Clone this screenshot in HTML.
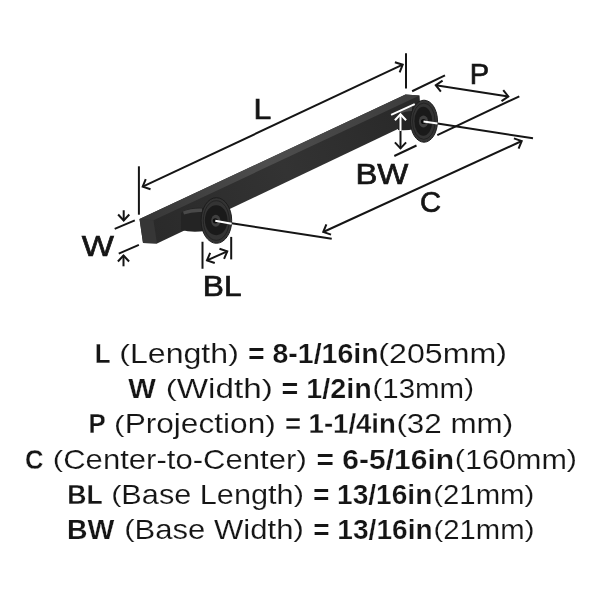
<!DOCTYPE html>
<html><head><meta charset="utf-8">
<style>
html,body{margin:0;padding:0;background:#fff;width:600px;height:600px;overflow:hidden}
svg{display:block;position:absolute;left:0;top:0;will-change:transform}
text{font-family:"Liberation Sans",sans-serif;fill:#151515}
</style></head><body>
<svg width="600" height="600" viewBox="0 0 600 600">
<defs>
<linearGradient id="topg" gradientUnits="userSpaceOnUse" x1="140" y1="219" x2="420" y2="95">
<stop offset="0" stop-color="#363636"/><stop offset="0.45" stop-color="#4e4e4e"/><stop offset="1" stop-color="#3c3c3c"/>
</linearGradient>
<linearGradient id="frontg" gradientUnits="userSpaceOnUse" x1="150" y1="230" x2="420" y2="108">
<stop offset="0" stop-color="#2a2a2a"/><stop offset="0.5" stop-color="#333"/><stop offset="1" stop-color="#282828"/>
</linearGradient>
</defs>
<polygon points="139.5,219 405.5,94.5 419.5,95.5 421,118 157,243.5 143,243" fill="url(#frontg)"/>
<polygon points="139.5,219 405.5,94.5 419.5,95.5 153.5,220.2" fill="url(#topg)"/>
<polygon points="139.5,219 153.5,220.2 157,243.5 143,243" fill="#363636"/>
<path d="M181,213 Q190,207 203,208 L205,231 Q192,233 181,230 Z" fill="#242424"/>
<path d="M183,211.5 Q191,208 202,208.5 L202,212 Q192,211.5 184,214.5 Z" fill="#555" opacity="0.75"/>
<ellipse cx="216.4" cy="220.5" rx="15.3" ry="22.8" fill="#343434" stroke="#1c1c1c" stroke-width="1"/>
<ellipse cx="216.3" cy="220.5" rx="13" ry="19.8" fill="none" stroke="#1e1e1e" stroke-width="0.8"/>
<ellipse cx="216.2" cy="220.2" rx="11.3" ry="15" fill="#1a1a1a"/>
<ellipse cx="215.8" cy="220.8" rx="4.6" ry="6" fill="#404040"/>
<circle cx="215.3" cy="220.8" r="2.6" fill="#0e0e0e"/>
<path d="M398,111 Q405,106 413,106 L415,129 Q406,131 398,130 Z" fill="#242424"/>
<path d="M399,110.5 Q405,107 412,107 L412,111 Q405,111 400,114 Z" fill="#555" opacity="0.7"/>
<ellipse cx="424" cy="121.2" rx="13.5" ry="21" fill="#343434" stroke="#1c1c1c" stroke-width="1"/>
<ellipse cx="423.8" cy="121.2" rx="11.3" ry="18.2" fill="none" stroke="#1e1e1e" stroke-width="0.8"/>
<ellipse cx="423.3" cy="121.2" rx="8.9" ry="14.5" fill="#1a1a1a"/>
<ellipse cx="423.5" cy="121.5" rx="4.6" ry="6" fill="#404040"/>
<circle cx="423.5" cy="121.5" r="2.6" fill="#0e0e0e"/>
<line x1="138.90" y1="166.30" x2="138.90" y2="214.70" stroke="#151515" stroke-width="2.0"/>
<line x1="406.00" y1="53.30" x2="406.00" y2="88.50" stroke="#151515" stroke-width="2.0"/>
<line x1="142.70" y1="186.70" x2="402.70" y2="64.70" stroke="#151515" stroke-width="2.0"/><polyline points="150.50,189.22 142.70,186.70 145.75,179.09" stroke="#151515" stroke-width="2.0" fill="none" stroke-linejoin="miter"/><polyline points="394.90,62.18 402.70,64.70 399.65,72.31" stroke="#151515" stroke-width="2.0" fill="none" stroke-linejoin="miter"/>
<line x1="114.70" y1="228.90" x2="134.80" y2="220.30" stroke="#151515" stroke-width="2.0"/>
<line x1="118.75" y1="253.60" x2="138.90" y2="244.90" stroke="#151515" stroke-width="2.0"/>
<line x1="123.70" y1="210.25" x2="123.70" y2="220.50" stroke="#151515" stroke-width="2.0"/>
<polyline points="129.29,214.50 123.70,220.50 118.11,214.50" stroke="#151515" stroke-width="2.0" fill="none" stroke-linejoin="miter"/>
<line x1="123.50" y1="266.30" x2="123.50" y2="255.50" stroke="#151515" stroke-width="2.0"/>
<polyline points="117.91,261.50 123.50,255.50 129.09,261.50" stroke="#151515" stroke-width="2.0" fill="none" stroke-linejoin="miter"/>
<line x1="202.50" y1="241.75" x2="202.50" y2="268.75" stroke="#151515" stroke-width="2.0"/>
<line x1="231.20" y1="236.90" x2="231.20" y2="259.40" stroke="#151515" stroke-width="2.0"/>
<line x1="207.00" y1="260.40" x2="227.25" y2="251.35" stroke="#151515" stroke-width="2.0"/><polyline points="214.76,263.06 207.00,260.40 210.19,252.85" stroke="#151515" stroke-width="2.0" fill="none" stroke-linejoin="miter"/><polyline points="219.49,248.69 227.25,251.35 224.06,258.90" stroke="#151515" stroke-width="2.0" fill="none" stroke-linejoin="miter"/>
<line x1="231.60" y1="223.30" x2="331.75" y2="238.75" stroke="#151515" stroke-width="2.0"/>
<line x1="437.50" y1="123.50" x2="533.00" y2="138.30" stroke="#151515" stroke-width="2.0"/>
<line x1="323.25" y1="232.00" x2="521.70" y2="141.00" stroke="#151515" stroke-width="2.0"/><polyline points="331.03,234.58 323.25,232.00 326.37,224.42" stroke="#151515" stroke-width="2.0" fill="none" stroke-linejoin="miter"/><polyline points="513.92,138.42 521.70,141.00 518.58,148.58" stroke="#151515" stroke-width="2.0" fill="none" stroke-linejoin="miter"/>
<line x1="412.10" y1="91.25" x2="445.00" y2="75.40" stroke="#151515" stroke-width="2.0"/>
<line x1="437.30" y1="135.20" x2="519.30" y2="96.30" stroke="#151515" stroke-width="2.0"/>
<line x1="435.80" y1="85.20" x2="508.30" y2="96.50" stroke="#151515" stroke-width="2.0"/><polyline points="440.86,91.65 435.80,85.20 442.59,80.60" stroke="#151515" stroke-width="2.0" fill="none" stroke-linejoin="miter"/><polyline points="503.24,90.05 508.30,96.50 501.51,101.10" stroke="#151515" stroke-width="2.0" fill="none" stroke-linejoin="miter"/>
<line x1="400.50" y1="130.00" x2="400.50" y2="148.40" stroke="#151515" stroke-width="2.0"/>
<polyline points="406.09,142.40 400.50,148.40 394.91,142.40" stroke="#151515" stroke-width="2.0" fill="none" stroke-linejoin="miter"/>
<line x1="394.30" y1="156.00" x2="416.50" y2="145.50" stroke="#151515" stroke-width="2.0"/>
<line x1="215.30" y1="220.80" x2="231.70" y2="223.75" stroke="#fff" stroke-width="2.0"/>
<line x1="423.50" y1="121.50" x2="437.50" y2="123.50" stroke="#fff" stroke-width="2.0"/>
<line x1="391.10" y1="114.90" x2="414.75" y2="104.10" stroke="#fff" stroke-width="2.0"/>
<line x1="400.50" y1="114.30" x2="400.50" y2="131.00" stroke="#fff" stroke-width="2.0"/>
<polyline points="394.91,120.30 400.50,114.30 406.09,120.30" stroke="#fff" stroke-width="2.0" fill="none" stroke-linejoin="miter"/>
<text transform="translate(253.489,118.950) scale(0.21343,0.19808)" font-size="150" font-weight="normal" stroke="#151515" stroke-width="3.534">L</text>
<text transform="translate(469.824,83.854) scale(0.19383,0.19619)" font-size="150" font-weight="normal" stroke="#151515" stroke-width="3.568">P</text>
<text transform="translate(355.419,183.550) scale(0.21921,0.19712)" font-size="150" font-weight="normal" stroke="#151515" stroke-width="3.551">BW</text>
<text transform="translate(419.986,211.951) scale(0.19479,0.19907)" font-size="150" font-weight="normal" stroke="#151515" stroke-width="3.516">C</text>
<text transform="translate(81.650,256.250) scale(0.22695,0.20096)" font-size="150" font-weight="normal" stroke="#151515" stroke-width="3.483">W</text>
<text transform="translate(202.813,295.650) scale(0.21138,0.19712)" font-size="150" font-weight="normal" stroke="#151515" stroke-width="3.551">BL</text>
<text transform="translate(94.769,362.900) scale(0.17308,0.18462)" font-size="150" font-weight="bold" stroke="#fff" stroke-width="0.25" vector-effect="non-scaling-stroke">L</text>
<text transform="translate(119.274,362.900) scale(0.21405,0.18462)" x="49.94" font-size="150" font-weight="normal" stroke="#fff" stroke-width="0.15" vector-effect="non-scaling-stroke">Length</text>
<text transform="translate(119.274,361.262) scale(0.21405,0.15929)" font-size="150" font-weight="normal" stroke="#fff" stroke-width="0.15" vector-effect="non-scaling-stroke">(</text>
<text transform="translate(228.167,361.262) scale(0.21405,0.15929)" font-size="150" font-weight="normal" stroke="#fff" stroke-width="0.15" vector-effect="non-scaling-stroke">)</text>
<text transform="translate(247.960,362.900) scale(0.19004,0.18462)" font-size="150" font-weight="bold" stroke="#fff" stroke-width="0.25" vector-effect="non-scaling-stroke">= 8-1/16in</text>
<text transform="translate(378.372,362.900) scale(0.21426,0.18462)" x="49.94" font-size="150" font-weight="normal" stroke="#fff" stroke-width="0.15" vector-effect="non-scaling-stroke">205mm</text>
<text transform="translate(378.372,361.262) scale(0.21426,0.15929)" font-size="150" font-weight="normal" stroke="#fff" stroke-width="0.15" vector-effect="non-scaling-stroke">(</text>
<text transform="translate(496.239,361.262) scale(0.21426,0.15929)" font-size="150" font-weight="normal" stroke="#fff" stroke-width="0.15" vector-effect="non-scaling-stroke">)</text>
<text transform="translate(128.300,398.100) scale(0.19507,0.18462)" font-size="150" font-weight="bold" stroke="#fff" stroke-width="0.25" vector-effect="non-scaling-stroke">W</text>
<text transform="translate(165.706,398.100) scale(0.22151,0.18462)" x="49.94" font-size="150" font-weight="normal" stroke="#fff" stroke-width="0.15" vector-effect="non-scaling-stroke">Width</text>
<text transform="translate(165.706,396.462) scale(0.22151,0.15929)" font-size="150" font-weight="normal" stroke="#fff" stroke-width="0.15" vector-effect="non-scaling-stroke">(</text>
<text transform="translate(261.698,396.462) scale(0.22151,0.15929)" font-size="150" font-weight="normal" stroke="#fff" stroke-width="0.15" vector-effect="non-scaling-stroke">)</text>
<text transform="translate(281.551,398.100) scale(0.19145,0.18462)" font-size="150" font-weight="bold" stroke="#fff" stroke-width="0.25" vector-effect="non-scaling-stroke">= 1/2in</text>
<text transform="translate(372.532,398.100) scale(0.19639,0.18462)" x="49.94" font-size="150" font-weight="normal" stroke="#fff" stroke-width="0.15" vector-effect="non-scaling-stroke">13mm</text>
<text transform="translate(372.532,396.462) scale(0.19639,0.15929)" font-size="150" font-weight="normal" stroke="#fff" stroke-width="0.15" vector-effect="non-scaling-stroke">(</text>
<text transform="translate(464.187,396.462) scale(0.19639,0.15929)" font-size="150" font-weight="normal" stroke="#fff" stroke-width="0.15" vector-effect="non-scaling-stroke">)</text>
<text transform="translate(88.382,433.300) scale(0.17176,0.18462)" font-size="150" font-weight="bold" stroke="#fff" stroke-width="0.25" vector-effect="non-scaling-stroke">P</text>
<text transform="translate(114.101,433.300) scale(0.21095,0.18462)" x="49.94" font-size="150" font-weight="normal" stroke="#fff" stroke-width="0.15" vector-effect="non-scaling-stroke">Projection</text>
<text transform="translate(114.101,431.662) scale(0.21095,0.15929)" font-size="150" font-weight="normal" stroke="#fff" stroke-width="0.15" vector-effect="non-scaling-stroke">(</text>
<text transform="translate(265.341,431.662) scale(0.21095,0.15929)" font-size="150" font-weight="normal" stroke="#fff" stroke-width="0.15" vector-effect="non-scaling-stroke">)</text>
<text transform="translate(284.899,433.300) scale(0.18356,0.18462)" font-size="150" font-weight="bold" stroke="#fff" stroke-width="0.25" vector-effect="non-scaling-stroke">= 1-1/4in</text>
<text transform="translate(396.417,433.300) scale(0.20926,0.18462)" x="49.94" font-size="150" font-weight="normal" stroke="#fff" stroke-width="0.15" vector-effect="non-scaling-stroke">32 mm</text>
<text transform="translate(396.417,431.662) scale(0.20926,0.15929)" font-size="150" font-weight="normal" stroke="#fff" stroke-width="0.15" vector-effect="non-scaling-stroke">(</text>
<text transform="translate(502.796,431.662) scale(0.20926,0.15929)" font-size="150" font-weight="normal" stroke="#fff" stroke-width="0.15" vector-effect="non-scaling-stroke">)</text>
<text transform="translate(24.978,468.500) scale(0.17041,0.18462)" font-size="150" font-weight="bold" stroke="#fff" stroke-width="0.25" vector-effect="non-scaling-stroke">C</text>
<text transform="translate(52.835,468.500) scale(0.20720,0.18462)" x="49.94" font-size="150" font-weight="normal" stroke="#fff" stroke-width="0.15" vector-effect="non-scaling-stroke">Center-to-Center</text>
<text transform="translate(52.835,466.862) scale(0.20720,0.15929)" font-size="150" font-weight="normal" stroke="#fff" stroke-width="0.15" vector-effect="non-scaling-stroke">(</text>
<text transform="translate(296.378,466.862) scale(0.20720,0.15929)" font-size="150" font-weight="normal" stroke="#fff" stroke-width="0.15" vector-effect="non-scaling-stroke">)</text>
<text transform="translate(316.500,468.500) scale(0.20000,0.18462)" font-size="150" font-weight="bold" stroke="#fff" stroke-width="0.25" vector-effect="non-scaling-stroke">= 6-5/16in</text>
<text transform="translate(454.868,468.500) scale(0.20361,0.18462)" x="49.94" font-size="150" font-weight="normal" stroke="#fff" stroke-width="0.15" vector-effect="non-scaling-stroke">160mm</text>
<text transform="translate(454.868,466.862) scale(0.20361,0.15929)" font-size="150" font-weight="normal" stroke="#fff" stroke-width="0.15" vector-effect="non-scaling-stroke">(</text>
<text transform="translate(566.874,466.862) scale(0.20361,0.15929)" font-size="150" font-weight="normal" stroke="#fff" stroke-width="0.15" vector-effect="non-scaling-stroke">)</text>
<text transform="translate(67.231,503.700) scale(0.17688,0.18462)" font-size="150" font-weight="bold" stroke="#fff" stroke-width="0.25" vector-effect="non-scaling-stroke">BL</text>
<text transform="translate(111.159,503.700) scale(0.20455,0.18462)" x="49.94" font-size="150" font-weight="normal" stroke="#fff" stroke-width="0.15" vector-effect="non-scaling-stroke">Base Length</text>
<text transform="translate(111.159,502.062) scale(0.20455,0.15929)" font-size="150" font-weight="normal" stroke="#fff" stroke-width="0.15" vector-effect="non-scaling-stroke">(</text>
<text transform="translate(293.674,502.062) scale(0.20455,0.15929)" font-size="150" font-weight="normal" stroke="#fff" stroke-width="0.15" vector-effect="non-scaling-stroke">)</text>
<text transform="translate(312.876,503.700) scale(0.18732,0.18462)" font-size="150" font-weight="bold" stroke="#fff" stroke-width="0.25" vector-effect="non-scaling-stroke">= 13/16in</text>
<text transform="translate(433.238,503.700) scale(0.19579,0.18462)" x="49.94" font-size="150" font-weight="normal" stroke="#fff" stroke-width="0.15" vector-effect="non-scaling-stroke">21mm</text>
<text transform="translate(433.238,502.062) scale(0.19579,0.15929)" font-size="150" font-weight="normal" stroke="#fff" stroke-width="0.15" vector-effect="non-scaling-stroke">(</text>
<text transform="translate(524.611,502.062) scale(0.19579,0.15929)" font-size="150" font-weight="normal" stroke="#fff" stroke-width="0.15" vector-effect="non-scaling-stroke">)</text>
<text transform="translate(66.904,538.900) scale(0.18958,0.18462)" font-size="150" font-weight="bold" stroke="#fff" stroke-width="0.25" vector-effect="non-scaling-stroke">BW</text>
<text transform="translate(124.134,538.900) scale(0.20730,0.18462)" x="49.94" font-size="150" font-weight="normal" stroke="#fff" stroke-width="0.15" vector-effect="non-scaling-stroke">Base Width</text>
<text transform="translate(124.134,537.262) scale(0.20730,0.15929)" font-size="150" font-weight="normal" stroke="#fff" stroke-width="0.15" vector-effect="non-scaling-stroke">(</text>
<text transform="translate(293.488,537.262) scale(0.20730,0.15929)" font-size="150" font-weight="normal" stroke="#fff" stroke-width="0.15" vector-effect="non-scaling-stroke">)</text>
<text transform="translate(313.176,538.900) scale(0.18732,0.18462)" font-size="150" font-weight="bold" stroke="#fff" stroke-width="0.25" vector-effect="non-scaling-stroke">= 13/16in</text>
<text transform="translate(433.543,538.900) scale(0.19519,0.18462)" x="49.94" font-size="150" font-weight="normal" stroke="#fff" stroke-width="0.15" vector-effect="non-scaling-stroke">21mm</text>
<text transform="translate(433.543,537.262) scale(0.19519,0.15929)" font-size="150" font-weight="normal" stroke="#fff" stroke-width="0.15" vector-effect="non-scaling-stroke">(</text>
<text transform="translate(524.636,537.262) scale(0.19519,0.15929)" font-size="150" font-weight="normal" stroke="#fff" stroke-width="0.15" vector-effect="non-scaling-stroke">)</text>
</svg>
</body></html>
